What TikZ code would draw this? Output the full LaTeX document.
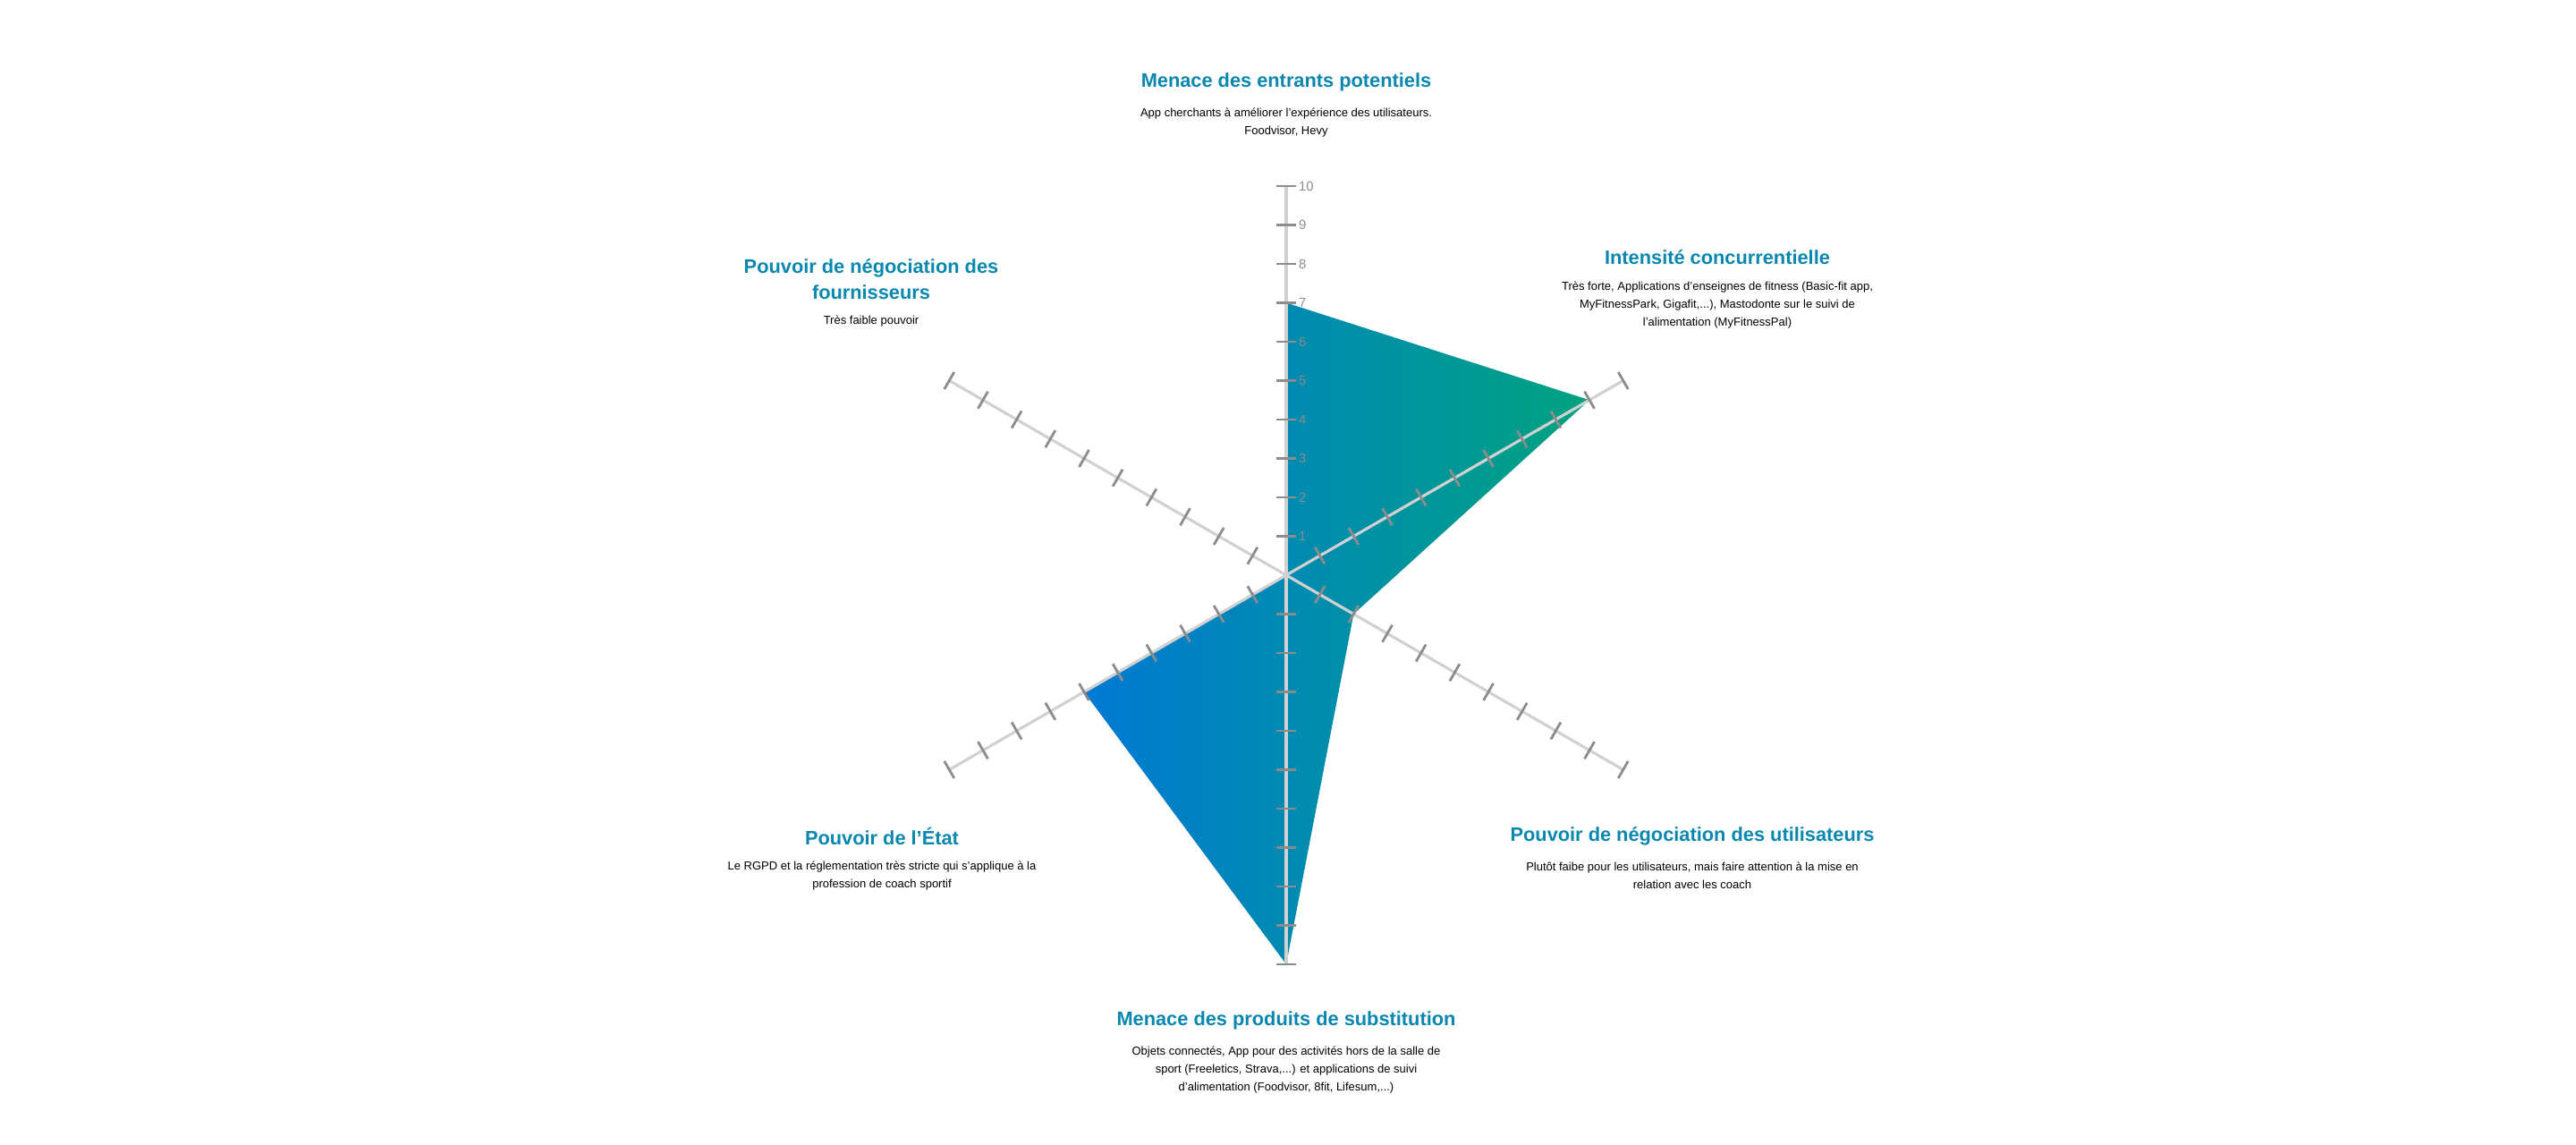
\documentclass[tikz,border=0pt]{standalone}
\usepackage{fontspec}
\setmainfont{Liberation Sans}
\usetikzlibrary{calc,positioning}
\definecolor{radarblue}{HTML}{0079D4}
\definecolor{radargreen}{HTML}{00A37F}
\definecolor{titleteal}{HTML}{0A87AE}
\begin{document}
\begin{tikzpicture}[
    axisline/.style={draw=black!18, line width=0.9pt},
    tickmark/.style={draw=black!45, line width=0.8pt},
    ticklabel/.style={text=black!45, font=\fontsize{4.2}{5}\selectfont, inner sep=1pt},
    forcetitle/.style={text=titleteal, font=\fontsize{6.2}{8.4}\selectfont\bfseries, align=center, inner sep=0pt},
    forcebody/.style={font=\fontsize{3.7}{5.7}\selectfont, align=center, inner sep=0pt}
]
\useasboundingbox (0,0) rectangle (28.8,12.8);
\def\unit{0.435}
\coordinate (c) at (14.38,6.37);
% polygon vertices: angle/value
\coordinate (v1) at ($(c)+(90:7*\unit)$);
\coordinate (v2) at ($(c)+(30:9*\unit)$);
\coordinate (v3) at ($(c)+(-30:2*\unit)$);
\coordinate (v4) at ($(c)+(-90:10*\unit)$);
\coordinate (v5) at ($(c)+(-150:6*\unit)$);
\coordinate (v6) at ($(c)+(150:0*\unit)$);
\shade[left color=radarblue, right color=radargreen] (v1) -- (v2) -- (v3) -- (v4) -- (v5) -- (v6) -- cycle;
% axes and ticks
\foreach \a in {90,30,-30,-90,-150,150}
{
    \draw[axisline] (c) -- ($(c)+(\a:10*\unit)$);
    \foreach \t in {1,...,10}
        \draw[tickmark] ($(c)+(\a:\t*\unit)+(\a+90:0.11)$) -- ($(c)+(\a:\t*\unit)+(\a-90:0.11)$);
}
\foreach \t in {1,...,10}
    \node[ticklabel, right] (lab\t) at ($(c)+(90:\t*\unit)+(0.1,0)$) {\t};
% force labels
\node[forcetitle] (entrants) at (14.38,11.88) {Menace des entrants potentiels};
\node[forcebody, below=0.17 of entrants] (entrantsTxt) {App cherchants à améliorer l'expérience des utilisateurs.\\Foodvisor, Hevy};
\node[forcetitle] (concurrence) at (19.20,9.92) {Intensité concurrentielle};
\node[forcebody, below=0.17 of concurrence] (concurrenceTxt) {Très forte, Applications d'enseignes de fitness (Basic-fit app,\\MyFitnessPark, Gigafit,...), Mastodonte sur le suivi de\\l'alimentation (MyFitnessPal)};
\node[forcetitle] (fournisseurs) at (9.74,9.68) {Pouvoir de négociation des\\fournisseurs};
\node[forcebody, below=0.17 of fournisseurs] (fournisseursTxt) {Très faible pouvoir};
\node[forcetitle] (utilisateurs) at (18.92,3.45) {Pouvoir de négociation des utilisateurs};
\node[forcebody, below=0.17 of utilisateurs] (utilisateursTxt) {Plutôt faibe pour les utilisateurs, mais faire attention à la mise en\\relation avec les coach};
\node[forcetitle] (etat) at (9.86,3.45) {Pouvoir de l'État};
\node[forcebody, below=0.17 of etat] (etatTxt) {Le RGPD et la réglementation très stricte qui s'applique à la\\profession de coach sportif};
\node[forcetitle] (substitution) at (14.38,1.39) {Menace des produits de substitution};
\node[forcebody, below=0.17 of substitution] (substitutionTxt) {Objets connectés, App pour des activités hors de la salle de\\sport (Freeletics, Strava,...) et applications de suivi\\d'alimentation (Foodvisor, 8fit, Lifesum,...)};
\end{tikzpicture}
\end{document}
